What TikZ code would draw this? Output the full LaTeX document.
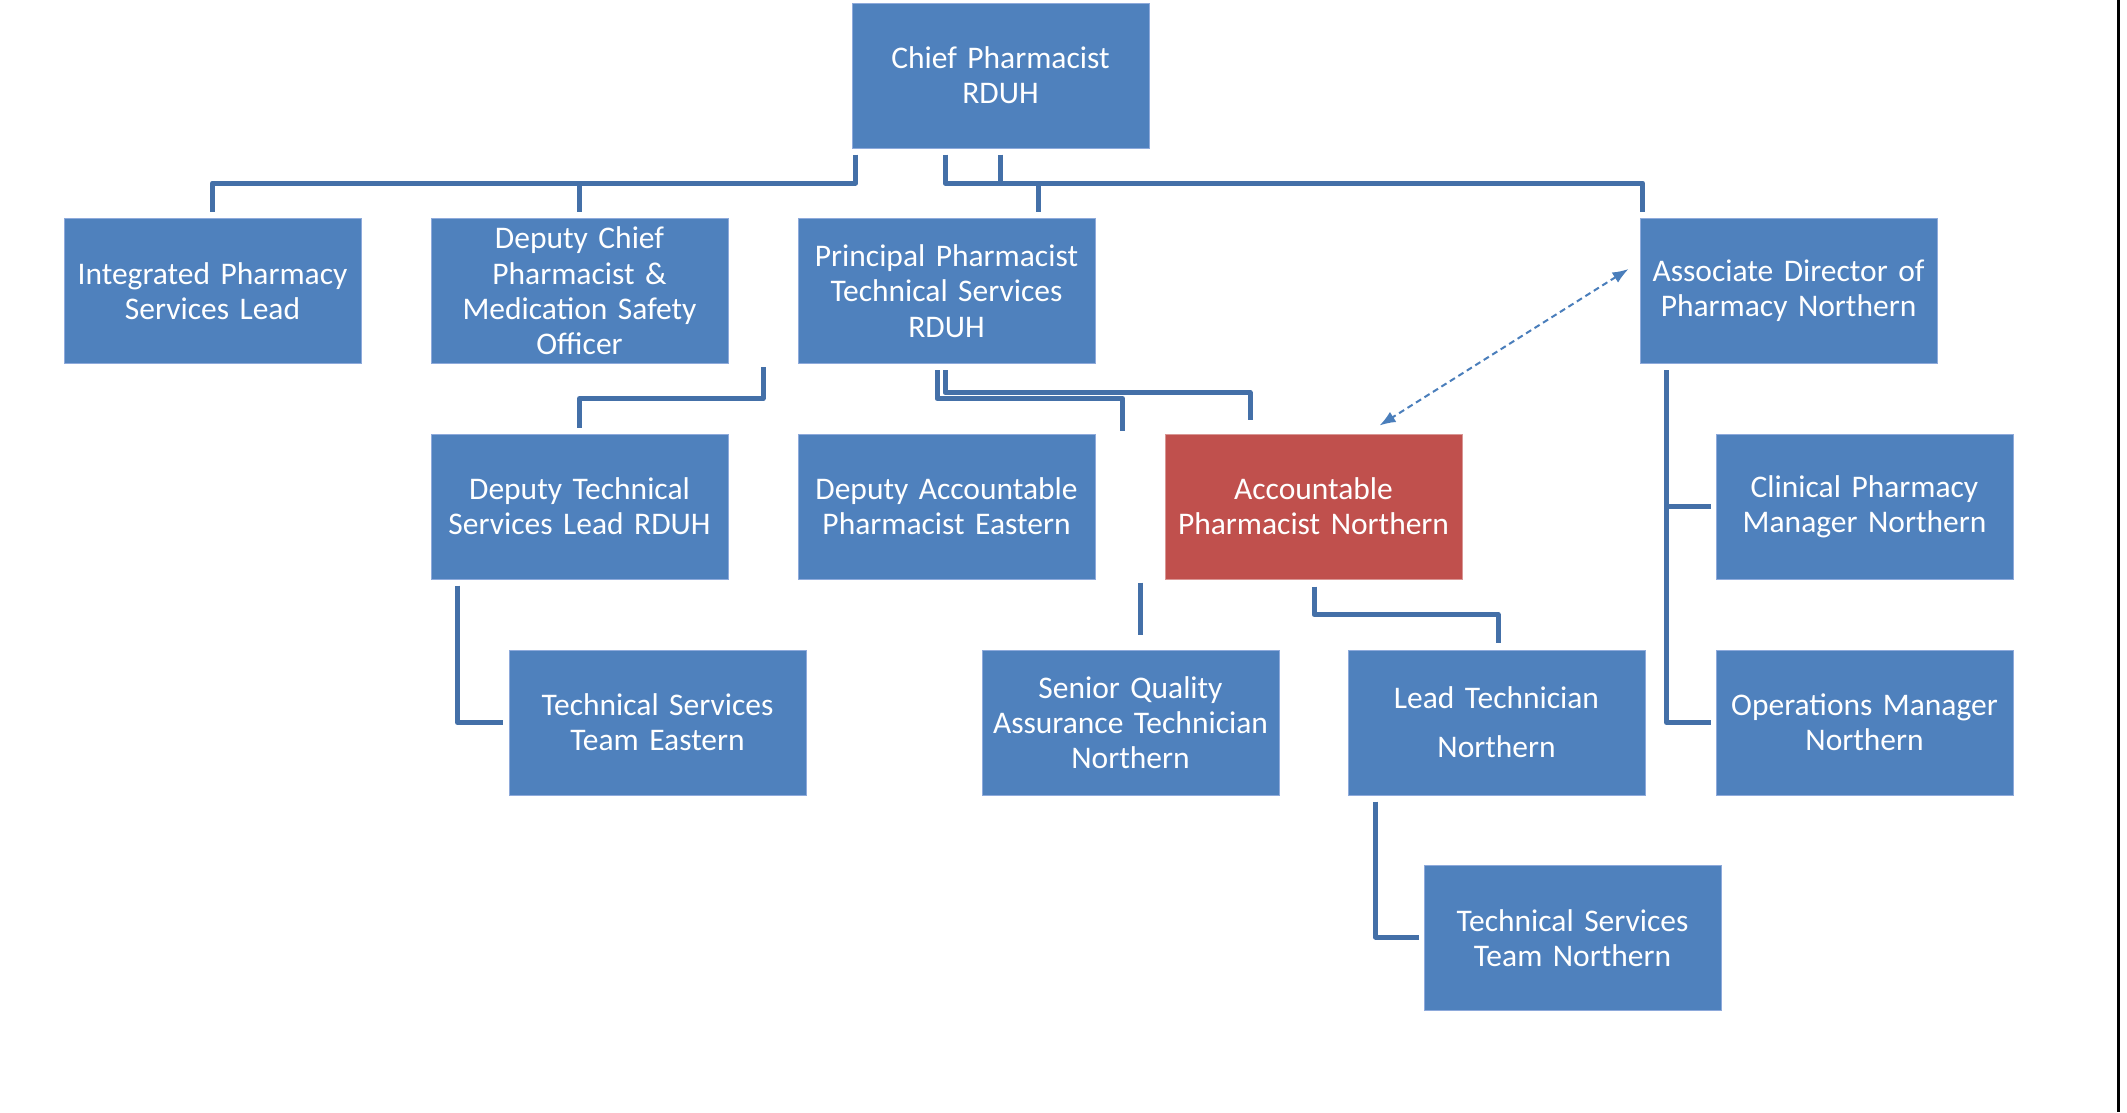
\documentclass[tikz,border=0pt]{standalone}
\usepackage{fontspec}
\setmainfont{Carlito}
\usetikzlibrary{calc,arrows.meta}
\definecolor{boxblue}{HTML}{4F81BD}
\definecolor{boxred}{HTML}{C0504D}
\definecolor{edgeblue}{HTML}{8EAADB}
\definecolor{edgered}{HTML}{D99694}
\definecolor{connblue}{HTML}{4470A8}
\definecolor{dashblue}{HTML}{4A7EBB}
\tikzset{
  rolebox/.style={rectangle, fill=boxblue, draw=edgeblue, line width=1pt,
    minimum width=297pt, minimum height=145pt, inner sep=0pt,
    text width=295pt, align=center, text=white,
    font=\fontsize{31.5}{35.3}\selectfont},
  redbox/.style={rolebox, fill=boxred, draw=edgered},
  conn/.style={draw=connblue, line width=5pt, line join=round},
  dashlink/.style={draw=dashblue, line width=2pt, dash pattern=on 6pt off 4pt,
    {Latex[length=16pt,width=12pt]}-{Latex[length=16pt,width=12pt]}}
}
\begin{document}
\begin{tikzpicture}[x=1pt,y=-1pt]
\useasboundingbox (0,0) rectangle (2127,1112);
\fill[white] (0,0) rectangle (2127,1112);
\draw[black, line width=3pt] (2118,0) -- (2118,1112);

% nodes
\node[rolebox] (chief) at (1000.5,75.5) {Chief Pharmacist\\RDUH};
\node[rolebox] (isl) at (212.5,291) {Integrated Pharmacy\\Services Lead};
\node[rolebox] (dcp) at (579.5,291) {Deputy Chief\\Pharmacist \&\\Medication Safety\\Officer};
\node[rolebox] (ppt) at (946.5,291) {Principal Pharmacist\\Technical Services\\RDUH};
\node[rolebox] (adp) at (1788.5,291) {Associate Director of\\Pharmacy Northern};
\node[rolebox] (dtl) at (579.5,506.5) {Deputy Technical\\Services Lead RDUH};
\node[rolebox] (dap) at (946.5,506.5) {Deputy Accountable\\Pharmacist Eastern};
\node[redbox] (apn) at (1313.5,506.5) {Accountable\\Pharmacist Northern};
\node[rolebox] (cpm) at (1864.5,506.5) {Clinical Pharmacy\\Manager Northern};
\node[rolebox] (tse) at (657.5,722.5) {Technical Services\\Team Eastern};
\node[rolebox] (sqa) at (1130.5,722.5) {Senior Quality\\Assurance Technician\\Northern};
\node[rolebox, font=\fontsize{31.5}{49}\selectfont] (ltn) at (1496.5,722.5) {Lead Technician\\Northern};
\node[rolebox] (opm) at (1864.5,722.5) {Operations Manager\\Northern};
\node[rolebox] (tsn) at (1572.5,938) {Technical Services\\Team Northern};

% connectors from Chief
\draw[conn] ($(chief.south)+(-145,6)$) |- ($(isl.north)+(0,-35)$) -- ($(isl.north)+(0,-6)$);
\draw[conn] ($(dcp.north)+(0,-35)$) -- ($(dcp.north)+(0,-6)$);
\draw[conn] ($(chief.south)+(-55.5,6)$) |- ($(adp.north west)+(3,-35)$) -- ($(adp.north west)+(3,-6)$);
\draw[conn] ($(chief.south)+(0,6)$) -- ($(chief.south)+(0,35)$);
\draw[conn] ($(ppt.north)+(91.5,-35)$) -- ($(ppt.north)+(91.5,-6)$);

% Deputy Chief -> Deputy Technical
\draw[conn] ($(dcp.south)+(183.5,3)$) |- ($(dtl.north)+(0,-35)$) -- ($(dtl.north)+(0,-6)$);

% Principal -> Deputy Accountable / Accountable
\draw[conn] ($(ppt.south)+(-9.5,6)$) |- ($(dap.north east)+(27,-35)$) -- ($(dap.north east)+(27,-3)$);
\draw[conn] ($(ppt.south)+(-1.5,6)$) |- ($(apn.north)+(-63.5,-41)$) -- ($(apn.north)+(-63.5,-14)$);

% Associate Director -> Clinical / Operations
\draw[conn] ($(adp.south west)+(27,6)$) |- ($(opm.west)+(-5,0)$);
\draw[conn] ($(cpm.west)+(-49,0)$) -- ($(cpm.west)+(-5,0)$);

% Deputy Technical -> Technical Services Eastern
\draw[conn] ($(dtl.south west)+(27,6)$) |- ($(tse.west)+(-6,0)$);

% Senior QA stub
\draw[conn] ($(sqa.north)+(9.5,-67)$) -- ($(sqa.north)+(9.5,-15)$);

% Accountable -> Lead Technician
\draw[conn] ($(apn.south)+(0.5,7)$) |- ($(ltn.north)+(1.5,-35)$) -- ($(ltn.north)+(1.5,-7)$);

% Lead Technician -> Technical Services Northern
\draw[conn] ($(ltn.south west)+(28,6)$) |- ($(tsn.west)+(-5,-1)$);

% dashed link
\draw[dashlink] ($(adp.west)+(-11,-22)$) -- ($(apn.north)+(66,-8)$);
\end{tikzpicture}
\end{document}
